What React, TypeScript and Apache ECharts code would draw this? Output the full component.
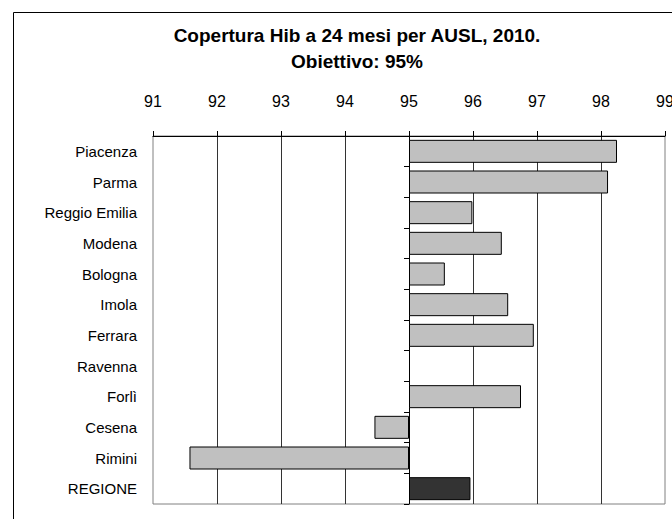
import React, { useEffect, useRef } from "react";
import * as echarts from "echarts";

const categories = [
  "Piacenza",
  "Parma",
  "Reggio Emilia",
  "Modena",
  "Bologna",
  "Imola",
  "Ferrara",
  "Ravenna",
  "Forlì",
  "Cesena",
  "Rimini",
  "REGIONE",
];
const coverage: (number | null)[] = [
  98.25, 98.11, 95.99, 96.45, 95.56, 96.55, 96.95, null, 96.75, 94.46, 91.57, 95.96,
];
const target = 95;
const axisMin = 91;
const axisMax = 99;
const titleText = "Copertura Hib a 24 mesi per AUSL, 2010.\nObiettivo: 95%";

const FONT = "'Liberation Sans', Arial, sans-serif";

export default function App() {
  const ref = useRef<HTMLDivElement>(null);
  useEffect(() => {
    if (!ref.current) return;
    const chart = echarts.init(ref.current, null, { renderer: "svg" });
    const data = coverage.map((v, i) => {
      if (v == null) return "-";
      const isRegion = categories[i] === "REGIONE";
      return {
        value: +(v - target).toFixed(4),
        itemStyle: { color: isRegion ? "#333333" : "#C0C0C0" },
      };
    });
    chart.setOption({
      animation: false,
      backgroundColor: "#ffffff",
      textStyle: { fontFamily: FONT },
      title: {
        text: titleText,
        left: 357,
        top: 22,
        padding: 0,
        textAlign: "center",
        textStyle: {
          fontFamily: FONT,
          fontSize: 19,
          fontWeight: "bold",
          color: "#000",
          lineHeight: 26,
        },
      },
      graphic: [
        {
          type: "rect",
          shape: { x: 13.5, y: 12.5, width: 720, height: 600 },
          style: { fill: "none", stroke: "#000", lineWidth: 1 },
          silent: true,
          z: 100,
        },
      ],
      grid: {
        left: 153,
        top: 136,
        right: 7,
        bottom: 15,
        show: true,
        borderColor: "#808080",
        borderWidth: 1,
        backgroundColor: "transparent",
        containLabel: false,
        outerBoundsMode: "none",
      },
      xAxis: {
        type: "value",
        position: "top",
        min: axisMin - target,
        max: axisMax - target,
        interval: 1,
        axisLine: { show: true, onZero: false, lineStyle: { color: "#000", width: 1 } },
        axisTick: { show: true, length: 5, lineStyle: { color: "#000" } },
        axisLabel: {
          margin: 27,
          fontSize: 16,
          color: "#000",
          fontFamily: FONT,
          formatter: (v: number) => String(Math.round(v + target)),
        },
        splitLine: {
          show: true,
          showMinLine: false,
          showMaxLine: false,
          lineStyle: { color: "#333", width: 1 },
        },
      },
      yAxis: [
        {
          type: "category",
          data: categories,
          inverse: true,
          position: "left",
          axisLine: { show: false, onZero: false },
          axisTick: { show: false },
          axisLabel: {
            margin: 16,
            fontSize: 15,
            color: "#000",
            fontFamily: FONT,
          },
          splitLine: { show: false },
        },
        {
          type: "category",
          data: categories,
          inverse: true,
          position: "left",
          axisLine: { show: true, onZero: true, lineStyle: { color: "#000", width: 1 } },
          axisTick: { show: true, length: 5, lineStyle: { color: "#000" } },
          axisLabel: { show: false },
          splitLine: { show: false },
        },
      ],
      series: [
        {
          type: "bar",
          yAxisIndex: 0,
          data,
          barCategoryGap: "25%",
          itemStyle: { borderColor: "#000", borderWidth: 1 },
          z: 2,
        },
      ],
    });
    return () => chart.dispose();
  }, []);
  return (
    <div
      ref={ref}
      style={{ position: "fixed", left: 0, top: 0, width: 672, height: 519 }}
    />
  );
}
